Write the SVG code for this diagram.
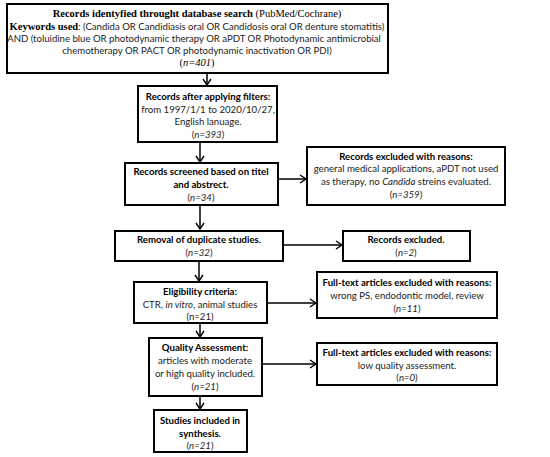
<svg xmlns="http://www.w3.org/2000/svg" width="550" height="457" viewBox="0 0 550 457">
<defs>
<marker id="arr" markerWidth="10" markerHeight="10" refX="7" refY="5" orient="auto" markerUnits="userSpaceOnUse">
<polyline points="1,1 7,5 1,9" fill="none" stroke="#000" stroke-width="1.4"/>
</marker>
<style>
.box{fill:#fff;stroke:#000;stroke-width:2}
.t{font-family:Lato,"Liberation Sans",sans-serif;font-size:9.6px;fill:#222;text-anchor:middle}
.b{font-weight:bold;fill:#000}
.s{font-family:"Liberation Serif",serif;font-size:10.5px;fill:#000;text-anchor:middle}
.c{fill:none;stroke:#000;stroke-width:1.5}
</style>
</defs>
<rect width="550" height="457" fill="#fff"/>
<g id="connectors">
<line class="c" x1="207" y1="73" x2="207" y2="85" marker-end="url(#arr)"/>
<line class="c" x1="200" y1="142" x2="200" y2="162" marker-end="url(#arr)"/>
<line class="c" x1="278" y1="179" x2="306" y2="179" marker-end="url(#arr)"/>
<line class="c" x1="200" y1="205" x2="200" y2="229" marker-end="url(#arr)"/>
<line class="c" x1="283" y1="245" x2="342" y2="245" marker-end="url(#arr)"/>
<line class="c" x1="199" y1="261" x2="199" y2="281" marker-end="url(#arr)"/>
<line class="c" x1="267" y1="303" x2="316" y2="303" marker-end="url(#arr)"/>
<line class="c" x1="200" y1="323" x2="200" y2="337" marker-end="url(#arr)"/>
<line class="c" x1="262" y1="364" x2="316" y2="364" marker-end="url(#arr)"/>
<line class="c" x1="200" y1="396" x2="200" y2="409" marker-end="url(#arr)"/>
</g>
<g id="n1">
<rect class="box" x="7" y="4" width="381" height="69"/>
<text class="s" x="197" y="17"><tspan font-weight="bold">Records identyfied throught database search</tspan> (PubMed/Cochrane)</text>
<text class="t" x="197" y="30"><tspan class="s b" font-weight="bold">Keywords used</tspan>: (Candida OR Candidiasis oral OR Candidosis oral OR denture stomatitis)</text>
<text class="t" x="194" y="42">AND (toluidine blue OR photodynamic therapy OR aPDT OR Photodynamic antimicrobial</text>
<text class="t" x="197" y="54">chemotherapy OR PACT OR photodynamic inactivation OR PDI)</text>
<text class="s" x="197" y="66">(<tspan font-style="italic">n=401</tspan>)</text>
</g>
<g id="n2">
<rect class="box" x="138" y="86" width="139" height="56"/>
<text class="t b" x="208" y="100">Records after applying filters:</text>
<text class="t" x="208" y="113">from 1997/1/1 to 2020/10/27,</text>
<text class="t" x="208" y="125">English lanuage.</text>
<text class="t" x="208" y="138">(<tspan font-style="italic">n=393</tspan>)</text>
</g>
<g id="n3">
<rect class="box" x="125" y="163" width="153" height="42"/>
<text class="t b" x="201" y="175">Records screened based on titel</text>
<text class="t b" x="201" y="188">and abstrect.</text>
<text class="t" x="201" y="201">(<tspan font-style="italic">n=34</tspan>)</text>
</g>
<g id="n3r">
<rect class="box" x="307" y="147" width="198" height="58"/>
<text class="t b" x="406" y="160">Records excluded with reasons:</text>
<text class="t" x="406" y="172">general medical applications, aPDT not used</text>
<text class="t" x="406" y="185">as therapy, no <tspan font-style="italic">Candida</tspan> streins evaluated.</text>
<text class="t" x="406" y="198">(<tspan font-style="italic">n=359</tspan>)</text>
</g>
<g id="n4">
<rect class="box" x="115" y="231" width="168" height="30"/>
<text class="t b" x="199" y="243">Removal of duplicate studies.</text>
<text class="t" x="199" y="256">(<tspan font-style="italic">n=32</tspan>)</text>
</g>
<g id="n4r">
<rect class="box" x="343" y="231" width="127" height="30"/>
<text class="t b" x="406" y="243">Records excluded.</text>
<text class="t" x="406" y="256">(<tspan font-style="italic">n=2</tspan>)</text>
</g>
<g id="n5">
<rect class="box" x="134" y="282" width="133" height="41"/>
<text class="t b" x="200" y="295">Eligibility criteria:</text>
<text class="t" x="200" y="308">CTR, <tspan font-style="italic">in vitro</tspan>, animal studies</text>
<text class="t" x="200" y="320">(n=21)</text>
</g>
<g id="n5r">
<rect class="box" x="317" y="272" width="180" height="46"/>
<text class="t b" x="407" y="286">Full-text articles excluded with reasons:</text>
<text class="t" x="407" y="299">wrong PS, endodontic model, review</text>
<text class="t" x="407" y="312">(<tspan font-style="italic">n=11</tspan>)</text>
</g>
<g id="n6">
<rect class="box" x="149" y="338" width="113" height="58"/>
<text class="t b" x="205" y="351">Quality Assessment:</text>
<text class="t" x="205" y="364">articles with moderate</text>
<text class="t" x="205" y="377">or high quality included.</text>
<text class="t" x="205" y="390">(<tspan font-style="italic">n=21</tspan>)</text>
</g>
<g id="n6r">
<rect class="box" x="317" y="343" width="180" height="42"/>
<text class="t b" x="407" y="356">Full-text articles excluded with reasons:</text>
<text class="t" x="407" y="369">low quality assessment.</text>
<text class="t" x="407" y="381">(<tspan font-style="italic">n=0</tspan>)</text>
</g>
<g id="n7">
<rect class="box" x="154" y="410" width="93" height="42"/>
<text class="t b" x="200" y="424">Studies included in</text>
<text class="t b" x="200" y="437">synthesis.</text>
<text class="t" x="200" y="449">(<tspan font-style="italic">n=21</tspan>)</text>
</g>
</svg>
